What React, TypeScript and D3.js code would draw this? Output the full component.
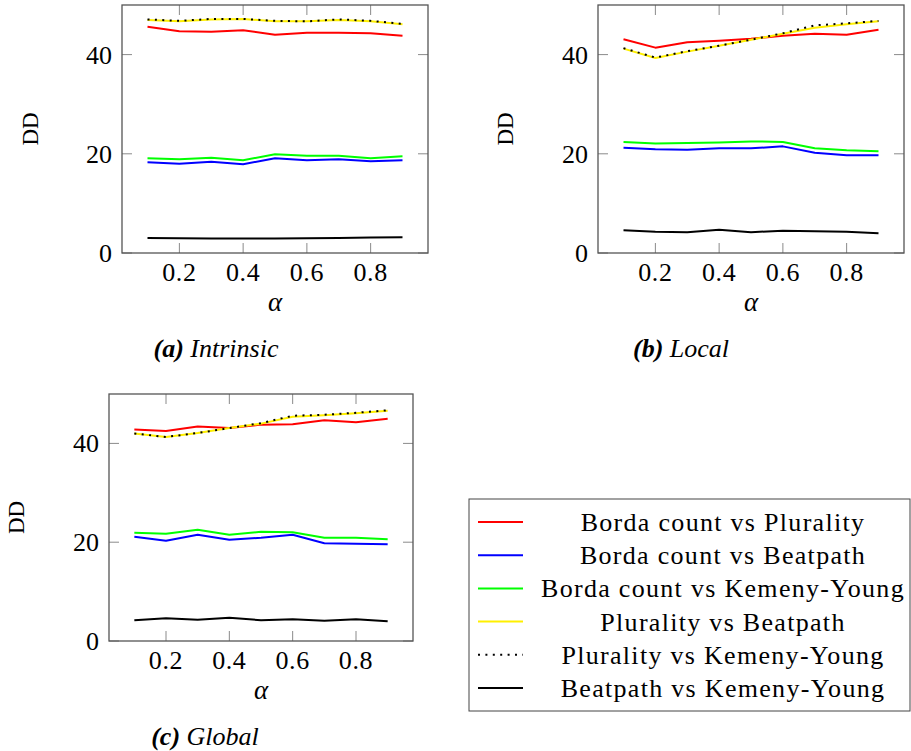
import React from "react";
import * as d3 from "d3";

const alphas = [0.1, 0.2, 0.3, 0.4, 0.5, 0.6, 0.7, 0.8, 0.9];
const xTicks = [0.2, 0.4, 0.6, 0.8];
const yTicks = [0, 20, 40];

const seriesNames = [
  "Borda count vs Plurality",
  "Borda count vs Beatpath",
  "Borda count vs Kemeny-Young",
  "Plurality vs Beatpath",
  "Plurality vs Kemeny-Young",
  "Beatpath vs Kemeny-Young",
];

// (a) Intrinsic
const intrinsicBordaPlurality = [45.6, 44.7, 44.6, 44.9, 44.0, 44.4, 44.4, 44.3, 43.8];
const intrinsicBordaBeatpath = [18.3, 18.0, 18.4, 17.9, 19.1, 18.7, 18.9, 18.5, 18.7];
const intrinsicBordaKemeny = [19.1, 18.9, 19.2, 18.7, 19.9, 19.6, 19.6, 19.1, 19.5];
const intrinsicPluralityBeatpath = [47.0, 46.7, 47.1, 47.2, 46.7, 46.7, 47.0, 46.7, 46.1];
const intrinsicPluralityKemeny = [47.1, 46.8, 47.2, 47.2, 46.8, 46.7, 47.1, 46.8, 46.2];
const intrinsicBeatpathKemeny = [3.0, 2.96, 2.9, 2.9, 2.9, 2.96, 3.0, 3.1, 3.2];

// (b) Local
const localBordaPlurality = [43.1, 41.4, 42.5, 42.8, 43.2, 43.8, 44.2, 44.0, 45.0];
const localBordaBeatpath = [21.2, 20.9, 20.8, 21.1, 21.1, 21.5, 20.2, 19.7, 19.7];
const localBordaKemeny = [22.4, 22.1, 22.2, 22.3, 22.5, 22.4, 21.1, 20.7, 20.5];
const localPluralityBeatpath = [41.2, 39.3, 40.6, 41.8, 43.0, 44.2, 45.4, 46.1, 46.7];
const localPluralityKemeny = [41.3, 39.4, 40.7, 41.8, 43.0, 44.3, 45.9, 46.3, 46.8];
const localBeatpathKemeny = [4.6, 4.3, 4.2, 4.7, 4.2, 4.5, 4.4, 4.3, 4.0];

// (c) Global
const globalBordaPlurality = [42.8, 42.5, 43.4, 43.1, 43.8, 43.9, 44.7, 44.3, 45.0];
const globalBordaBeatpath = [21.1, 20.3, 21.5, 20.5, 20.9, 21.5, 19.8, 19.7, 19.6];
const globalBordaKemeny = [21.9, 21.7, 22.5, 21.5, 22.1, 22.0, 20.9, 20.9, 20.6];
const globalPluralityBeatpath = [42.0, 41.3, 42.1, 43.1, 44.0, 45.4, 45.7, 46.1, 46.6];
const globalPluralityKemeny = [42.0, 41.3, 42.1, 43.1, 44.1, 45.6, 45.8, 46.2, 46.7];
const globalBeatpathKemeny = [4.2, 4.6, 4.3, 4.7, 4.2, 4.4, 4.1, 4.4, 4.0];

const styles = [
  { color: "#ff0000", dash: "" },
  { color: "#0000ff", dash: "" },
  { color: "#00ff00", dash: "" },
  { color: "#fff000", dash: "" },
  { color: "#000000", dash: "2 5.4" },
  { color: "#000000", dash: "" },
];

const FONT = "'Liberation Serif', 'Times New Roman', serif";

type PanelProps = {
  left: number;
  right: number;
  top: number;
  bottom: number;
  labelX: number;
  captionX: number;
  tag: string;
  title: string;
  series: number[][];
};

const Panel = ({ left, right, top, bottom, labelX, captionX, tag, title, series }: PanelProps) => {
  const x = d3.scaleLinear().domain([0.02, 0.98]).range([left, right]);
  const y = d3.scaleLinear().domain([0, 50]).range([bottom, top]);
  const line = d3
    .line<number>()
    .x((_, i) => x(alphas[i]))
    .y((d) => y(d));
  const tickLen = 10;
  const midY = (top + bottom) / 2;
  const midX = (left + right) / 2;

  return (
    <g>
      {xTicks.map((t) => (
        <g key={"x" + t}>
          <line x1={x(t)} x2={x(t)} y1={bottom} y2={bottom - tickLen} stroke="#8a8a8a" strokeWidth={1} />
          <line x1={x(t)} x2={x(t)} y1={top} y2={top + tickLen} stroke="#8a8a8a" strokeWidth={1} />
          <text x={x(t)} y={bottom + 28} textAnchor="middle" fontSize={26} letterSpacing={0.6} fontFamily={FONT}>
            {t.toFixed(1)}
          </text>
        </g>
      ))}
      {yTicks.map((t) => (
        <g key={"y" + t}>
          <line x1={left} x2={left + tickLen} y1={y(t)} y2={y(t)} stroke="#8a8a8a" strokeWidth={1} />
          <line x1={right} x2={right - tickLen} y1={y(t)} y2={y(t)} stroke="#8a8a8a" strokeWidth={1} />
          <text x={left - 10} y={y(t) + 9} textAnchor="end" fontSize={26} fontFamily={FONT}>
            {t}
          </text>
        </g>
      ))}
      {series.map((s, i) => (
        <path
          key={i}
          d={line(s) || ""}
          fill="none"
          stroke={styles[i].color}
          strokeWidth={2}
          strokeDasharray={styles[i].dash || undefined}
          strokeLinejoin="round"
        />
      ))}
      <rect x={left} y={top} width={right - left} height={bottom - top} fill="none" stroke="#555" strokeWidth={1.3} />
      <text
        transform={`translate(${labelX + 8},${midY}) rotate(-90)`}
        textAnchor="middle"
        fontSize={23}
        fontFamily={FONT}
      >
        DD
      </text>
      <text x={midX} y={bottom + 58} textAnchor="middle" fontSize={27} fontStyle="italic" fontFamily={FONT}>
        α
      </text>
      <text x={captionX} y={bottom + 104} textAnchor="middle" fontSize={26} fontStyle="italic" fontFamily={FONT}>
        <tspan fontWeight="bold">({tag})</tspan> {title}
      </text>
    </g>
  );
};

const Legend = () => {
  const rowY = d3.scaleLinear().domain([0, 5]).range([522, 688]);
  return (
    <g>
      <rect x={469} y={499} width={441} height={212} fill="#fff" stroke="#444" strokeWidth={1} />
      {seriesNames.map((n, i) => (
        <g key={n}>
          <line
            x1={478}
            x2={523}
            y1={rowY(i)}
            y2={rowY(i)}
            stroke={styles[i].color}
            strokeWidth={2}
            strokeDasharray={styles[i].dash || undefined}
          />
          <text x={723} y={rowY(i) + 9} textAnchor="middle" fontSize={26} letterSpacing={1.3} fontFamily={FONT}>
            {n}
          </text>
        </g>
      ))}
    </g>
  );
};

export default function App() {
  return (
    <svg width={911} height={751} style={{ position: "absolute", left: 0, top: 0, background: "#fff" }}>
      <Panel
        left={122}
        right={428}
        top={5}
        bottom={253}
        labelX={29.5}
        captionX={216}
        tag="a"
        title="Intrinsic"
        series={[
          intrinsicBordaPlurality,
          intrinsicBordaBeatpath,
          intrinsicBordaKemeny,
          intrinsicPluralityBeatpath,
          intrinsicPluralityKemeny,
          intrinsicBeatpathKemeny,
        ]}
      />
      <Panel
        left={598}
        right={904}
        top={5}
        bottom={253}
        labelX={505}
        captionX={681}
        tag="b"
        title="Local"
        series={[
          localBordaPlurality,
          localBordaBeatpath,
          localBordaKemeny,
          localPluralityBeatpath,
          localPluralityKemeny,
          localBeatpathKemeny,
        ]}
      />
      <Panel
        left={109}
        right={413}
        top={394}
        bottom={641}
        labelX={16}
        captionX={205}
        tag="c"
        title="Global"
        series={[
          globalBordaPlurality,
          globalBordaBeatpath,
          globalBordaKemeny,
          globalPluralityBeatpath,
          globalPluralityKemeny,
          globalBeatpathKemeny,
        ]}
      />
      <Legend />
    </svg>
  );
}
